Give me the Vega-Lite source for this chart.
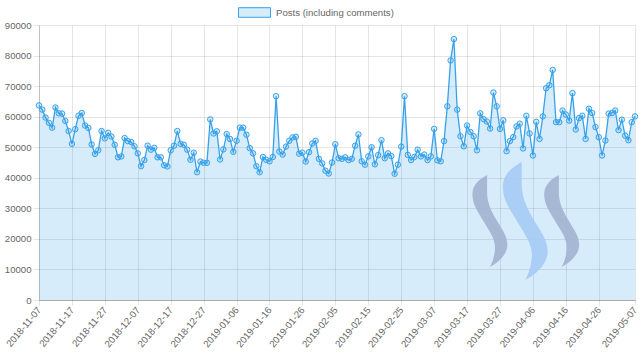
{
  "$schema": "https://vega.github.io/schema/vega-lite/v6.json",
  "width": 596,
  "height": 275,
  "autosize": {"type": "none"},
  "padding": {"left": 39, "top": 25, "right": 5, "bottom": 61},
  "background": "white",
  "config": {
    "font": "Liberation Sans",
    "view": {"stroke": null},
    "axis": {
      "labelFont": "Liberation Sans",
      "labelFontSize": 9.6,
      "labelColor": "#666666",
      "gridColor": "rgba(0,0,0,0.1)",
      "tickColor": "rgba(0,0,0,0.1)",
      "grid": true
    },
    "axisX": {
      "labelAngle": -50, "labelAlign": "right", "labelBaseline": "middle",
      "labelPadding": 3, "tickSize": 5, "labelOverlap": false, "labelFlush": false, "labelBound": false,
      "domainColor": "rgba(0,0,0,0.25)"
    },
    "axisY": {
      "tickSize": 6, "labelPadding": 2, "domainColor": "rgba(0,0,0,0.15)"
    }
  },
  "datasets": {
    "posts": [
      {"d": "2018-11-07", "v": 63700}, {"d": "2018-11-08", "v": 62300}, {"d": "2018-11-09", "v": 59700}, {"d": "2018-11-10", "v": 58000},
      {"d": "2018-11-11", "v": 56400}, {"d": "2018-11-12", "v": 63000}, {"d": "2018-11-13", "v": 61100}, {"d": "2018-11-14", "v": 61000},
      {"d": "2018-11-15", "v": 58600}, {"d": "2018-11-16", "v": 55300}, {"d": "2018-11-17", "v": 51100}, {"d": "2018-11-18", "v": 55900},
      {"d": "2018-11-19", "v": 60300}, {"d": "2018-11-20", "v": 61200}, {"d": "2018-11-21", "v": 57100}, {"d": "2018-11-22", "v": 56300},
      {"d": "2018-11-23", "v": 50900}, {"d": "2018-11-24", "v": 47800}, {"d": "2018-11-25", "v": 49000}, {"d": "2018-11-26", "v": 55300},
      {"d": "2018-11-27", "v": 52900}, {"d": "2018-11-28", "v": 54700}, {"d": "2018-11-29", "v": 53500}, {"d": "2018-11-30", "v": 50800},
      {"d": "2018-12-01", "v": 46700}, {"d": "2018-12-02", "v": 47000}, {"d": "2018-12-03", "v": 53000}, {"d": "2018-12-04", "v": 52000},
      {"d": "2018-12-05", "v": 51700}, {"d": "2018-12-06", "v": 50300}, {"d": "2018-12-07", "v": 48000}, {"d": "2018-12-08", "v": 43800},
      {"d": "2018-12-09", "v": 45800}, {"d": "2018-12-10", "v": 50500}, {"d": "2018-12-11", "v": 49200}, {"d": "2018-12-12", "v": 49800},
      {"d": "2018-12-13", "v": 46700}, {"d": "2018-12-14", "v": 46700}, {"d": "2018-12-15", "v": 44100}, {"d": "2018-12-16", "v": 43700},
      {"d": "2018-12-17", "v": 49000}, {"d": "2018-12-18", "v": 50500}, {"d": "2018-12-19", "v": 55300}, {"d": "2018-12-20", "v": 51100},
      {"d": "2018-12-21", "v": 50800}, {"d": "2018-12-22", "v": 49200}, {"d": "2018-12-23", "v": 45900}, {"d": "2018-12-24", "v": 48200},
      {"d": "2018-12-25", "v": 41800}, {"d": "2018-12-26", "v": 45300}, {"d": "2018-12-27", "v": 44900}, {"d": "2018-12-28", "v": 44900},
      {"d": "2018-12-29", "v": 59100}, {"d": "2018-12-30", "v": 54500}, {"d": "2018-12-31", "v": 55200}, {"d": "2019-01-01", "v": 46000},
      {"d": "2019-01-02", "v": 49300}, {"d": "2019-01-03", "v": 54300}, {"d": "2019-01-04", "v": 52700}, {"d": "2019-01-05", "v": 48500},
      {"d": "2019-01-06", "v": 52100}, {"d": "2019-01-07", "v": 56400}, {"d": "2019-01-08", "v": 56400}, {"d": "2019-01-09", "v": 54100},
      {"d": "2019-01-10", "v": 49700}, {"d": "2019-01-11", "v": 48000}, {"d": "2019-01-12", "v": 43800}, {"d": "2019-01-13", "v": 41800},
      {"d": "2019-01-14", "v": 46800}, {"d": "2019-01-15", "v": 45900}, {"d": "2019-01-16", "v": 45400}, {"d": "2019-01-17", "v": 46800},
      {"d": "2019-01-18", "v": 66700}, {"d": "2019-01-19", "v": 48600}, {"d": "2019-01-20", "v": 47600}, {"d": "2019-01-21", "v": 50200},
      {"d": "2019-01-22", "v": 52100}, {"d": "2019-01-23", "v": 53200}, {"d": "2019-01-24", "v": 53400}, {"d": "2019-01-25", "v": 47900},
      {"d": "2019-01-26", "v": 48200}, {"d": "2019-01-27", "v": 45300}, {"d": "2019-01-28", "v": 48400}, {"d": "2019-01-29", "v": 51200},
      {"d": "2019-01-30", "v": 52100}, {"d": "2019-01-31", "v": 46200}, {"d": "2019-02-01", "v": 44700}, {"d": "2019-02-02", "v": 42300},
      {"d": "2019-02-03", "v": 41400}, {"d": "2019-02-04", "v": 45000}, {"d": "2019-02-05", "v": 51000}, {"d": "2019-02-06", "v": 46400},
      {"d": "2019-02-07", "v": 46200}, {"d": "2019-02-08", "v": 46700}, {"d": "2019-02-09", "v": 45800}, {"d": "2019-02-10", "v": 46200},
      {"d": "2019-02-11", "v": 50500}, {"d": "2019-02-12", "v": 54200}, {"d": "2019-02-13", "v": 45400}, {"d": "2019-02-14", "v": 44300},
      {"d": "2019-02-15", "v": 47000}, {"d": "2019-02-16", "v": 50000}, {"d": "2019-02-17", "v": 44400}, {"d": "2019-02-18", "v": 47400},
      {"d": "2019-02-19", "v": 52300}, {"d": "2019-02-20", "v": 46400}, {"d": "2019-02-21", "v": 48000}, {"d": "2019-02-22", "v": 47100},
      {"d": "2019-02-23", "v": 41300}, {"d": "2019-02-24", "v": 44300}, {"d": "2019-02-25", "v": 50200}, {"d": "2019-02-26", "v": 66700},
      {"d": "2019-02-27", "v": 47500}, {"d": "2019-02-28", "v": 45800}, {"d": "2019-03-01", "v": 46800}, {"d": "2019-03-02", "v": 49200},
      {"d": "2019-03-03", "v": 47000}, {"d": "2019-03-04", "v": 47600}, {"d": "2019-03-05", "v": 45800}, {"d": "2019-03-06", "v": 47000},
      {"d": "2019-03-07", "v": 56000}, {"d": "2019-03-08", "v": 45700}, {"d": "2019-03-09", "v": 45400}, {"d": "2019-03-10", "v": 52000},
      {"d": "2019-03-11", "v": 63400}, {"d": "2019-03-12", "v": 78400}, {"d": "2019-03-13", "v": 85400}, {"d": "2019-03-14", "v": 62300},
      {"d": "2019-03-15", "v": 53600}, {"d": "2019-03-16", "v": 50300}, {"d": "2019-03-17", "v": 57100}, {"d": "2019-03-18", "v": 55000},
      {"d": "2019-03-19", "v": 53600}, {"d": "2019-03-20", "v": 49000}, {"d": "2019-03-21", "v": 61100}, {"d": "2019-03-22", "v": 59200},
      {"d": "2019-03-23", "v": 58400}, {"d": "2019-03-24", "v": 56100}, {"d": "2019-03-25", "v": 67900}, {"d": "2019-03-26", "v": 63400},
      {"d": "2019-03-27", "v": 56000}, {"d": "2019-03-28", "v": 58800}, {"d": "2019-03-29", "v": 48700}, {"d": "2019-03-30", "v": 52000},
      {"d": "2019-03-31", "v": 53300}, {"d": "2019-04-01", "v": 56800}, {"d": "2019-04-02", "v": 57700}, {"d": "2019-04-03", "v": 49600},
      {"d": "2019-04-04", "v": 60300}, {"d": "2019-04-05", "v": 54500}, {"d": "2019-04-06", "v": 47300}, {"d": "2019-04-07", "v": 58300},
      {"d": "2019-04-08", "v": 52700}, {"d": "2019-04-09", "v": 60100}, {"d": "2019-04-10", "v": 69300}, {"d": "2019-04-11", "v": 70300},
      {"d": "2019-04-12", "v": 75300}, {"d": "2019-04-13", "v": 58200}, {"d": "2019-04-14", "v": 58200}, {"d": "2019-04-15", "v": 62000},
      {"d": "2019-04-16", "v": 60700}, {"d": "2019-04-17", "v": 58700}, {"d": "2019-04-18", "v": 67700}, {"d": "2019-04-19", "v": 55800},
      {"d": "2019-04-20", "v": 59500}, {"d": "2019-04-21", "v": 60300}, {"d": "2019-04-22", "v": 52700}, {"d": "2019-04-23", "v": 62600},
      {"d": "2019-04-24", "v": 61200}, {"d": "2019-04-25", "v": 56600}, {"d": "2019-04-26", "v": 53300}, {"d": "2019-04-27", "v": 47300},
      {"d": "2019-04-28", "v": 52200}, {"d": "2019-04-29", "v": 61000}, {"d": "2019-04-30", "v": 61200}, {"d": "2019-05-01", "v": 62000},
      {"d": "2019-05-02", "v": 55600}, {"d": "2019-05-03", "v": 59000}, {"d": "2019-05-04", "v": 53800}, {"d": "2019-05-05", "v": 52300},
      {"d": "2019-05-06", "v": 58200}, {"d": "2019-05-07", "v": 60100}
    ],
    "logo": [{}]
  },
  "resolve": {
    "scale": {"x": "shared", "y": "shared"},
    "axis": {"x": "independent", "y": "independent"}
  },
  "layer": [
    {
      "data": {"name": "posts"},
      "mark": {"type": "area", "color": "#36a2eb", "opacity": 0.2, "line": false},
      "encoding": {
        "x": {
          "field": "d", "type": "temporal",
          "scale": {"type": "utc", "domain": [{"year": 2018, "month": 11, "date": 7, "utc": true}, {"year": 2019, "month": 5, "date": 7, "utc": true}], "nice": false},
          "axis": {
            "values": [1541548800000, 1542412800000, 1543276800000, 1544140800000, 1545004800000, 1545868800000, 1546732800000, 1547596800000, 1548460800000, 1549324800000, 1550188800000, 1551052800000, 1551916800000, 1552780800000, 1553644800000, 1554508800000, 1555372800000, 1556236800000, 1557187200000],
            "labelExpr": "utcFormat(datum.value, '%Y-%m-%d')", "title": null
          }
        },
        "y": {
          "field": "v", "type": "quantitative",
          "scale": {"domain": [0, 90000], "nice": false},
          "axis": {
            "values": [0, 10000, 20000, 30000, 40000, 50000, 60000, 70000, 80000, 90000],
            "format": "d", "title": null
          }
        }
      }
    },
    {
      "data": {"name": "logo"},
      "mark": {"type": "point", "filled": true, "shape": "M-0.05,-1 C-0.2,-0.92 -0.37,-0.8 -0.37,-0.58 C-0.37,-0.35 -0.25,-0.2 -0.12,0.02 C0.02,0.25 0.13,0.4 0.12,0.6 C0.11,0.78 0.06,0.9 0.01,1 C0.2,0.9 0.4,0.72 0.39,0.5 C0.38,0.3 0.25,0.15 0.12,-0.08 C0,-0.3 -0.06,-0.45 -0.05,-0.7 Z", "size": 8464, "color": "#a2b2cf", "opacity": 0.9, "strokeWidth": 0},
      "encoding": {
        "x": {"datum": {"year": 2019, "month": 3, "date": 23, "hours": 19, "utc": true}, "type": "temporal", "axis": null},
        "y": {"datum": 25850, "type": "quantitative", "axis": null}
      }
    },
    {
      "data": {"name": "logo"},
      "mark": {"type": "point", "filled": true, "shape": "M-0.05,-1 C-0.2,-0.92 -0.37,-0.8 -0.37,-0.58 C-0.37,-0.35 -0.25,-0.2 -0.12,0.02 C0.02,0.25 0.13,0.4 0.12,0.6 C0.11,0.78 0.06,0.9 0.01,1 C0.2,0.9 0.4,0.72 0.39,0.5 C0.38,0.3 0.25,0.15 0.12,-0.08 C0,-0.3 -0.06,-0.45 -0.05,-0.7 Z", "size": 13924, "color": "#a6cbf5", "opacity": 0.9, "strokeWidth": 0},
      "encoding": {
        "x": {"datum": {"year": 2019, "month": 4, "date": 3, "hours": 12, "utc": true}, "type": "temporal", "axis": null},
        "y": {"datum": 25850, "type": "quantitative", "axis": null}
      }
    },
    {
      "data": {"name": "logo"},
      "mark": {"type": "point", "filled": true, "shape": "M-0.05,-1 C-0.2,-0.92 -0.37,-0.8 -0.37,-0.58 C-0.37,-0.35 -0.25,-0.2 -0.12,0.02 C0.02,0.25 0.13,0.4 0.12,0.6 C0.11,0.78 0.06,0.9 0.01,1 C0.2,0.9 0.4,0.72 0.39,0.5 C0.38,0.3 0.25,0.15 0.12,-0.08 C0,-0.3 -0.06,-0.45 -0.05,-0.7 Z", "size": 8464, "color": "#a2b2cf", "opacity": 0.9, "strokeWidth": 0},
      "encoding": {
        "x": {"datum": {"year": 2019, "month": 4, "date": 14, "hours": 14, "utc": true}, "type": "temporal", "axis": null},
        "y": {"datum": 25850, "type": "quantitative", "axis": null}
      }
    },
    {
      "data": {"name": "posts"},
      "mark": {"type": "line", "color": "#36a2eb", "strokeWidth": 1.3},
      "encoding": {
        "x": {"field": "d", "type": "temporal", "axis": null},
        "y": {"field": "v", "type": "quantitative", "axis": null}
      }
    },
    {
      "data": {"name": "posts"},
      "mark": {"type": "point", "filled": false, "fill": "rgba(54,162,235,0.2)", "strokeWidth": 1, "size": 30, "opacity": 1},
      "encoding": {
        "x": {"field": "d", "type": "temporal", "axis": null},
        "y": {"field": "v", "type": "quantitative", "axis": null},
        "color": {
          "datum": "Posts (including comments)", "type": "nominal",
          "scale": {"range": ["#36a2eb"]},
          "legend": {
            "orient": "none", "legendX": 199, "legendY": -29, "title": null,
            "symbolType": "M-1,-0.3H1V0.3H-1Z", "symbolSize": 1024, "symbolOpacity": 1,
            "symbolFillColor": "rgba(54,162,235,0.2)", "symbolStrokeWidth": 1,
            "labelFont": "Liberation Sans", "labelFontSize": 9.6, "labelColor": "#666666", "labelOffset": 5,
            "padding": 0
          }
        }
      }
    }
  ]
}
